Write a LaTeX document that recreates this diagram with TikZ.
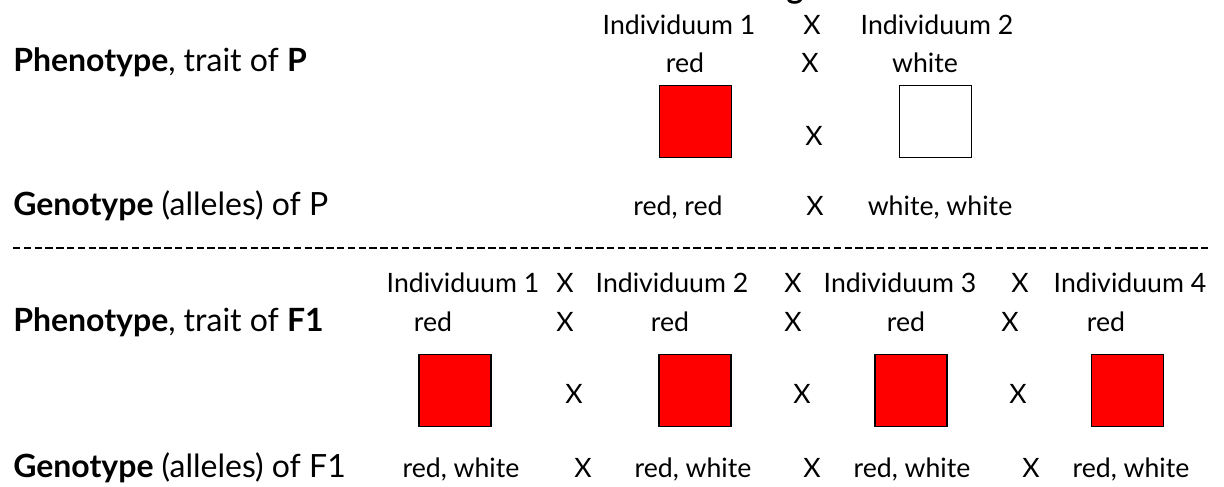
\documentclass[tikz,border=0pt]{standalone}
\usepackage{fontspec}
\setmainfont{Lato}
\begin{document}
\begin{tikzpicture}[x=0.75pt,y=-0.75pt,
  lbl/.style={anchor=base west,inner sep=0pt,font=\fontsize{24}{28}\selectfont},
  txt/.style={anchor=base,inner sep=0pt,font=\fontsize{20}{24}\selectfont},
  sq/.style={draw=black,line width=1.1pt,minimum size=54pt,inner sep=0pt,anchor=center},
  redsq/.style={sq,fill=red},
  whitesq/.style={sq,fill=white},
  sepline/.style={line width=1.5pt,dash pattern=on 5.6pt off 2.5pt}]
\useasboundingbox (0,0) rectangle (1224,486);
% cut-off title
\node[anchor=base,inner sep=0pt,font=\fontsize{24}{28}\selectfont\bfseries] (title) at (795,-2) {g};
% left labels
\node[lbl] (phP) at (13,71) {\textbf{Phenotype}, trait of \textbf{P}};
\node[lbl] (geP) at (13,215) {\textbf{Genotype} (alleles) of P};
\node[lbl] (phF) at (13,331) {\textbf{Phenotype}, trait of \textbf{F1}};
\node[lbl] (geF) at (13,477) {\textbf{Genotype} (alleles) of F1};
% P generation
\node[txt] (pi1) at (679,34) {Individuum 1};
\node[txt] (px1) at (812,34) {X};
\node[txt] (pi2) at (937,34) {Individuum 2};
\node[txt] (pr1) at (685,72) {red};
\node[txt] (px2) at (810,72) {X};
\node[txt] (pr2) at (925,72) {white};
\node[redsq] (psq1) at (695.5,121.5) {};
\node[txt] (px3) at (814,145) {X};
\node[whitesq] (psq2) at (935.5,121.5) {};
\node[txt] (pg1) at (678,215) {red, red};
\node[txt] (px4) at (815,215) {X};
\node[txt] (pg2) at (940,215) {white, white};
% separator
\coordinate (sepL) at (13,248);
\coordinate (sepR) at (1208,248);
\draw[sepline] (sepL) -- (sepR);
% F1 generation
\node[txt] (fi1) at (463,292) {Individuum 1};
\node[txt] (fx1) at (565,292) {X};
\node[txt] (fi2) at (672,292) {Individuum 2};
\node[txt] (fx2) at (793,292) {X};
\node[txt] (fi3) at (900,292) {Individuum 3};
\node[txt] (fx3) at (1020,292) {X};
\node[txt] (fi4) at (1130,292) {Individuum 4};
\node[txt] (fr1) at (433,331) {red};
\node[txt] (fy1) at (565,331) {X};
\node[txt] (fr2) at (670,331) {red};
\node[txt] (fy2) at (793,331) {X};
\node[txt] (fr3) at (906,331) {red};
\node[txt] (fy3) at (1010,331) {X};
\node[txt] (fr4) at (1106,331) {red};
\node[redsq] (fsq1) at (455,390.5) {};
\node[txt] (fz1) at (574,403) {X};
\node[redsq] (fsq2) at (695,390.5) {};
\node[txt] (fz2) at (802,403) {X};
\node[redsq] (fsq3) at (911,390.5) {};
\node[txt] (fz3) at (1018,403) {X};
\node[redsq] (fsq4) at (1127.5,390.5) {};
\node[txt] (fg1) at (461,477) {red, white};
\node[txt] (fw1) at (583,477) {X};
\node[txt] (fg2) at (693,477) {red, white};
\node[txt] (fw2) at (812,477) {X};
\node[txt] (fg3) at (912,477) {red, white};
\node[txt] (fw3) at (1031,477) {X};
\node[txt] (fg4) at (1131,477) {red, white};
\end{tikzpicture}
\end{document}
